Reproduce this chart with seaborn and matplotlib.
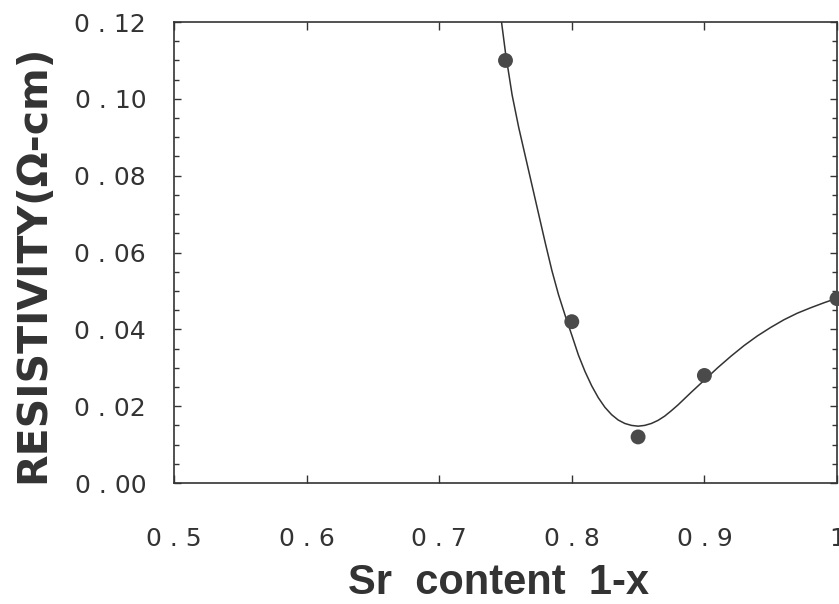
import matplotlib
matplotlib.use("Agg")
import matplotlib.pyplot as plt
from matplotlib.ticker import MultipleLocator
import seaborn as sns

# Measured resistivity vs Sr content
sr_content = [0.75, 0.80, 0.85, 0.90, 1.00]
resistivity = [0.110, 0.042, 0.012, 0.028, 0.048]

# Hand-drawn guide curve through the measurements
curve_x = [0.747, 0.750, 0.755, 0.760, 0.765, 0.770, 0.775, 0.780, 0.785, 0.790,
           0.795, 0.800, 0.805, 0.810, 0.815, 0.820, 0.825, 0.830, 0.835, 0.840,
           0.845, 0.850, 0.855, 0.860, 0.865, 0.870, 0.875, 0.880, 0.890, 0.900,
           0.910, 0.920, 0.930, 0.940, 0.950, 0.960, 0.970, 0.980, 0.990, 1.000]
curve_y = [0.1200, 0.1120, 0.1010, 0.0925, 0.0850, 0.0775, 0.0700, 0.0625, 0.0553, 0.0490,
           0.0436, 0.0385, 0.0333, 0.0290, 0.0253, 0.0222, 0.0197, 0.0178, 0.0164, 0.0155,
           0.0150, 0.0148, 0.0150, 0.0155, 0.0163, 0.0174, 0.0188, 0.0203, 0.0236, 0.0268,
           0.0300, 0.0330, 0.0358, 0.0383, 0.0405, 0.0425, 0.0442, 0.0456, 0.0469, 0.0481]

xtick_values = [0.5, 0.6, 0.7, 0.8, 0.9, 1.0]
xtick_labels = ["0.5", "0.6", "0.7", "0.8", "0.9", "1"]
ytick_values = [0.00, 0.02, 0.04, 0.06, 0.08, 0.10, 0.12]
ytick_labels = ["0.00", "0.02", "0.04", "0.06", "0.08", "0.10", "0.12"]
x_label = "Sr  content  1-x"
y_label = "RESISTIVITY(\u03a9-cm)"

sns.set_theme(style="ticks")
plt.rcParams["font.family"] = ["Liberation Sans", "DejaVu Sans"]
ink = "#333333"


def spaced(text):
    """Open up the decimal point the way the typewriter-style labels do."""
    return text.replace(".", " . ")


fig = plt.figure(figsize=(8.39, 6.04), dpi=100)
fig.patch.set_facecolor("white")
ax = fig.add_axes([0.2074, 0.2003, 0.7902, 0.7632])
ax.set_facecolor("white")

sns.lineplot(x=curve_x, y=curve_y, sort=False, estimator=None, color=ink,
             linewidth=1.1, ax=ax)
sns.scatterplot(x=sr_content, y=resistivity, s=115, color="#4a4a4a",
                edgecolor="none", ax=ax, zorder=3, clip_on=False)

ax.set_xlim(0.5, 1.0)
ax.set_ylim(0.0, 0.12)
ax.set_xticks(xtick_values)
ax.set_xticklabels([spaced(t) for t in xtick_labels])
ax.set_yticks(ytick_values)
ax.set_yticklabels([spaced(t) for t in ytick_labels])
ax.yaxis.set_minor_locator(MultipleLocator(0.005))

ax.tick_params(which="both", direction="in", top=True, right=True,
               color=ink, width=1.0)
ax.tick_params(axis="x", which="major", length=6, pad=32,
               labelsize=18, labelcolor=ink)
ax.tick_params(axis="y", which="major", length=5, pad=20,
               labelsize=18, labelcolor=ink)
ax.tick_params(axis="y", which="minor", length=3.5)
for lbl in ax.get_xticklabels() + ax.get_yticklabels():
    lbl.set_fontfamily("DejaVu Sans")

for side in ["left", "right", "top", "bottom"]:
    ax.spines[side].set_visible(True)
    ax.spines[side].set_color(ink)
    ax.spines[side].set_linewidth(1.2)

ax.set_xlabel("")
ax.set_ylabel("")
fig.text(498 / 839, 1 - 583 / 604, x_label, ha="center", va="center",
         fontsize=30, fontweight="bold", color=ink)
fig.text(33 / 839, 1 - 264 / 604, y_label, ha="center", va="center",
         rotation=90, fontsize=29.5, fontweight="bold", color=ink,
         family=["DejaVu Sans"])

fig.savefig("out.png", dpi=100, facecolor="white")
